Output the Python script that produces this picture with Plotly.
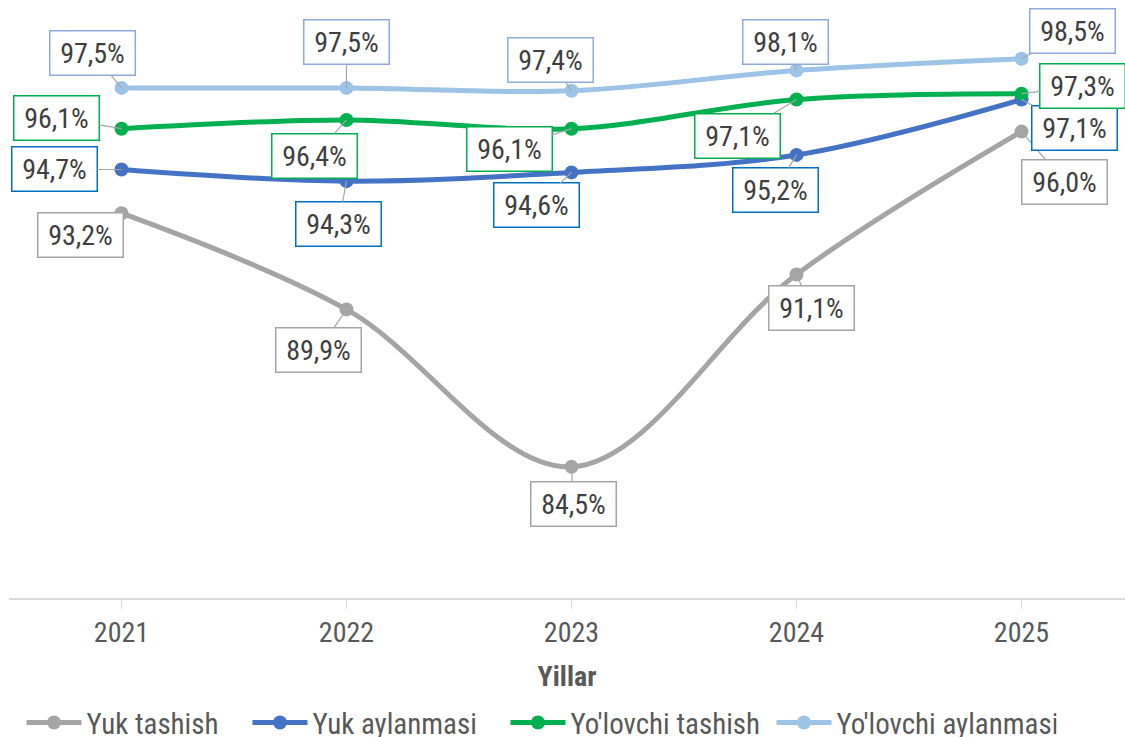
import plotly.graph_objects as go

years = ["2021", "2022", "2023", "2024", "2025"]
yuk_tashish = [93.2, 89.9, 84.5, 91.1, 96.0]
yuk_aylanmasi = [94.7, 94.3, 94.6, 95.2, 97.1]
yolovchi_tashish = [96.1, 96.4, 96.1, 97.1, 97.3]
yolovchi_aylanmasi = [97.5, 97.5, 97.4, 98.1, 98.5]

series_names = ["Yuk tashish", "Yuk aylanmasi", "Yo'lovchi tashish", "Yo'lovchi aylanmasi"]
series_values = [yuk_tashish, yuk_aylanmasi, yolovchi_tashish, yolovchi_aylanmasi]
line_colors = ["#A5A5A5", "#4472C4", "#00B050", "#9DC3E6"]
label_borders = ["#A5A5A5", "#0070C0", "#00B050", "#8FAADC"]
legend_widths = [156, 188, 196, 215]

# label offsets (pixels) from each point to label box centre
label_offsets = [
    [(-41, 22), (-28, 41), (2, 37), (15, 34), (43, 50)],
    [(-67, 0), (-8, 43), (-35, 33), (-21, 35), (53, 28)],
    [(-65, -11), (-32, 36), (-62, 20), (-59, 36), (61, -8)],
    [(-29, -35), (0, -46), (-21, -31), (-11, -28), (51, -28)],
]

FONT = "Roboto Condensed, Liberation Sans Narrow, Arial Narrow, Roboto, sans-serif"

fig = go.Figure()
xi = list(range(len(years)))
for name, vals, col, lw in zip(series_names, series_values, line_colors, legend_widths):
    fig.add_trace(go.Scatter(
        x=xi, y=vals, name=name, mode="lines+markers",
        line=dict(color=col, width=5, shape="spline", smoothing=1),
        marker=dict(color=col, size=14),
        legendwidth=lw,
    ))

annotations = []
for vals, bcol, offs in zip(series_values, label_borders, label_offsets):
    for i, v in enumerate(vals):
        ax, ay = offs[i]
        annotations.append(dict(
            x=i, y=v, xref="x", yref="y",
            text=f"{v:.1f}".replace(".", ",") + "%",
            showarrow=True, arrowhead=0, arrowwidth=1.2, arrowcolor="#A6A6A6",
            ax=ax, ay=ay, axref="pixel", ayref="pixel",
            bordercolor=bcol, borderwidth=1.5, borderpad=4,
            bgcolor="white", width=76, height=35,
            font=dict(family=FONT, size=28, color="#404040"),
        ))

fig.update_layout(
    width=1125, height=737,
    margin=dict(l=9, r=0, t=15, b=139, autoexpand=False),
    plot_bgcolor="white", paper_bgcolor="white",
    font=dict(family=FONT, color="#595959"),
    showlegend=True,
    legend=dict(
        orientation="h", x=0.0112, xanchor="left", y=-0.17, yanchor="top",
        font=dict(family=FONT, size=29, color="#595959"),
        itemwidth=55, tracegroupgap=0,
    ),
    annotations=annotations,
    xaxis=dict(
        range=[-0.5, 4.46], tickmode="array", tickvals=xi, ticktext=years,
        tickson="boundaries", ticks="outside", ticklen=9, tickcolor="#D9D9D9",
        showline=True, linecolor="#D9D9D9", linewidth=1.5,
        showgrid=False, zeroline=False, automargin=False,
        tickfont=dict(family=FONT, size=28, color="#595959"),
        title=dict(text="<b>Yillar</b>", font=dict(family=FONT, size=28, color="#595959"), standoff=18),
    ),
    yaxis=dict(range=[80, 100], visible=False, showgrid=False, zeroline=False),
)

fig.write_html("out.html", config={"displayModeBar": False},
               post_script="document.body.style.margin='0px';")
